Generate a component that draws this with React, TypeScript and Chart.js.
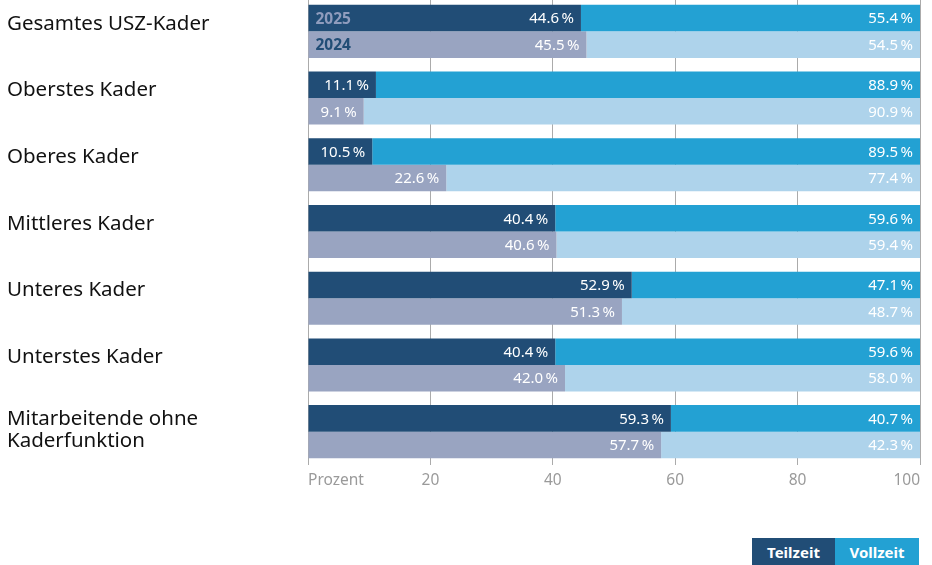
import React, { useEffect, useRef } from 'react';
import { Chart, registerables } from 'chart.js';

Chart.register(...registerables);

const categories: string[][] = [
  ['Gesamtes USZ-Kader'],
  ['Oberstes Kader'],
  ['Oberes Kader'],
  ['Mittleres Kader'],
  ['Unteres Kader'],
  ['Unterstes Kader'],
  ['Mitarbeitende ohne', 'Kaderfunktion'],
];
const teilzeit2025 = [44.6, 11.1, 10.5, 40.4, 52.9, 40.4, 59.3];
const vollzeit2025 = [55.4, 88.9, 89.5, 59.6, 47.1, 59.6, 40.7];
const teilzeit2024 = [45.5, 9.1, 22.6, 40.6, 51.3, 42.0, 57.7];
const vollzeit2024 = [54.5, 90.9, 77.4, 59.4, 48.7, 58.0, 42.3];
const years = ['2025', '2024'];
const legendLabels = ['Teilzeit', 'Vollzeit'];
const axisTitle = 'Prozent';

const NAVY = '#214d76';
const BLUE = '#23a1d3';
const GREYBLUE = '#99a4c1';
const LIGHTBLUE = '#aed3eb';
const FONT = '"Noto Sans", sans-serif';

const valueLabels = {
  id: 'valueLabels',
  afterDatasetsDraw(chart: any) {
    const ctx = chart.ctx;
    ctx.save();
    ctx.textBaseline = 'middle';
    chart.data.datasets.forEach((ds: any, di: number) => {
      const meta = chart.getDatasetMeta(di);
      meta.data.forEach((bar: any, i: number) => {
        const v = ds.data[i];
        ctx.font = `400 15px ${FONT}`;
        ctx.fillStyle = '#ffffff';
        ctx.textAlign = 'right';
        ctx.fillText(v.toFixed(1) + '\u202F%', bar.x - 7, bar.y + 1);
        if (i === 0 && ds.yearLabel) {
          ctx.font = `700 15.5px ${FONT}`;
          ctx.fillStyle = ds.yearColor;
          ctx.textAlign = 'left';
          ctx.fillText(ds.yearLabel, bar.base + 7, bar.y + 1);
        }
      });
    });
    // category labels, aligned to the 2025 bar of each group
    const meta0 = chart.getDatasetMeta(0);
    ctx.font = `400 20.5px ${FONT}`;
    ctx.fillStyle = '#111111';
    ctx.textAlign = 'left';
    ctx.textBaseline = 'alphabetic';
    (chart.data.labels as string[][]).forEach((lines, i) => {
      const bar: any = meta0.data[i];
      if (!bar) return;
      if (lines.length === 1) {
        ctx.fillText(lines[0], 7, bar.y + 11.5);
      } else {
        lines.forEach((ln, k) => ctx.fillText(ln, 7, bar.y + 6.5 + k * 22.5));
      }
    });
    ctx.restore();
  },
};

export default function App() {
  const ref = useRef<HTMLCanvasElement | null>(null);
  useEffect(() => {
    if (!ref.current) return;
    const chart = new Chart(ref.current, {
      type: 'bar',
      data: {
        labels: categories as any,
        datasets: [
          { label: legendLabels[0] + ' ' + years[0], data: teilzeit2025, backgroundColor: NAVY, stack: 'a', yearLabel: years[0], yearColor: '#8f9cbd' } as any,
          { label: legendLabels[1] + ' ' + years[0], data: vollzeit2025, backgroundColor: BLUE, stack: 'a' },
          { label: legendLabels[0] + ' ' + years[1], data: teilzeit2024, backgroundColor: GREYBLUE, stack: 'b', yearLabel: years[1], yearColor: NAVY } as any,
          { label: legendLabels[1] + ' ' + years[1], data: vollzeit2024, backgroundColor: LIGHTBLUE, stack: 'b' },
        ],
      },
      options: {
        indexAxis: 'y',
        responsive: false,
        animation: false,
        maintainAspectRatio: false,
        datasets: { bar: { categoryPercentage: 0.795, barPercentage: 1, borderWidth: 0 } },
        layout: { padding: { left: 7, right: 12, top: 1, bottom: 0 } },
        plugins: { legend: { display: false }, tooltip: { enabled: false } },
        scales: {
          x: {
            stacked: true,
            min: 0,
            max: 100,
            border: { display: false },
            grid: { color: '#ababab', lineWidth: 1, drawTicks: false },
            ticks: {
              stepSize: 20,
              align: 'inner',
              padding: 6,
              color: '#9a9a9a',
              font: { family: FONT, size: 15.5 },
              callback: (v: any) => (Number(v) === 0 ? axisTitle : String(v)),
            },
            afterFit: (s: any) => { s.height = 30; },
          },
          y: {
            stacked: true,
            border: { display: false },
            grid: { display: false, drawTicks: false },
            ticks: { display: false },
            afterFit: (s: any) => { s.width = 301; },
          },
        },
      },
      plugins: [valueLabels],
    } as any);
    return () => chart.destroy();
  }, []);

  const box = (bg: string): React.CSSProperties => ({
    position: 'absolute',
    top: 538,
    height: 27,
    width: 84,
    background: bg,
    color: '#fff',
    fontFamily: FONT,
    fontWeight: 700,
    fontSize: 15,
    display: 'flex',
    alignItems: 'center',
    justifyContent: 'center',
  });

  return (
    <div style={{ position: 'fixed', left: 0, top: 0, width: 932, height: 565, background: '#fff', overflow: 'hidden' }}>
      <div style={{ position: 'absolute', left: 0, top: -3, width: 932, height: 498 }}>
        <canvas ref={ref} width={932} height={498} style={{ display: 'block' }} />
      </div>
      <div style={{ ...box(NAVY), left: 752, width: 83 }}>{legendLabels[0]}</div>
      <div style={{ ...box(BLUE), left: 835 }}>{legendLabels[1]}</div>
    </div>
  );
}
